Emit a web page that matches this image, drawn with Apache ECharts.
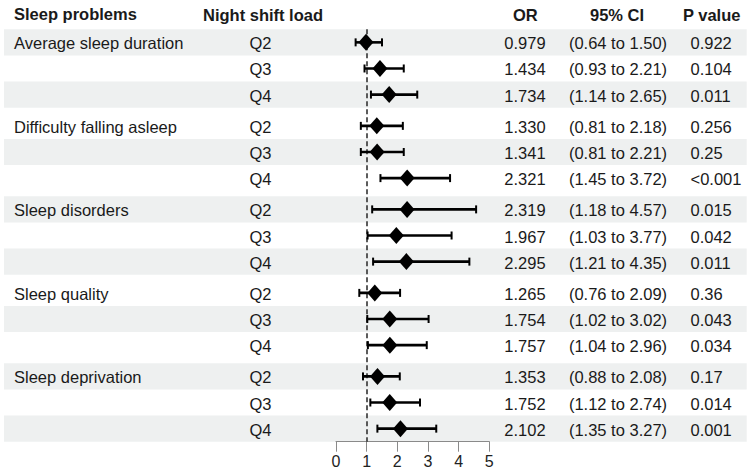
<!DOCTYPE html>
<html>
<head>
<meta charset="utf-8">
<script src="https://cdn.jsdelivr.net/npm/echarts@6/dist/echarts.min.js"></script>
<style>
  html, body { margin: 0; padding: 0; background: #ffffff; }
  #chart { width: 749px; height: 473px; }
</style>
</head>
<body>
<div id="chart"></div>
<script>
// ---------------- data ----------------
const groups = ['Average sleep duration', 'Difficulty falling asleep', 'Sleep disorders', 'Sleep quality', 'Sleep deprivation'];
const loads = ['Q2', 'Q3', 'Q4'];
const orValues = [0.979, 1.434, 1.734, 1.330, 1.341, 2.321, 2.319, 1.967, 2.295, 1.265, 1.754, 1.757, 1.353, 1.752, 2.102];
const ciLow = [0.64, 0.93, 1.14, 0.81, 0.81, 1.45, 1.18, 1.03, 1.21, 0.76, 1.02, 1.04, 0.88, 1.12, 1.35];
const ciHigh = [1.50, 2.21, 2.65, 2.18, 2.21, 3.72, 4.57, 3.77, 4.35, 2.09, 3.02, 2.96, 2.08, 2.74, 3.27];
const pValues = ['0.922', '0.104', '0.011', '0.256', '0.25', '<0.001', '0.015', '0.042', '0.011', '0.36', '0.043', '0.034', '0.17', '0.014', '0.001'];
const headers = ['Sleep problems', 'Night shift load', 'OR', '95% CI', 'P value'];
const xTicks = [0, 1, 2, 3, 4, 5];

// ---------------- layout ----------------
const FONT = '"Liberation Sans", Arial, Helvetica, sans-serif';
const FS = 16.5;
const TXT = '#1a1a1a';
const GAP = 0.197;                       // gap between groups, in row units
const NROWS = groups.length * loads.length;
const TOTAL = NROWS + (groups.length - 1) * GAP;
const GRID_TOP = 29.3, GRID_H = 412.4;
function rowTop(i) { return Math.floor(i / 3) * (3 + GAP) + (i % 3); }
function rowCenter(i) { return rowTop(i) + 0.5; }

const rows = orValues.map((v, i) => ({
  idx: i,
  group: (i % 3 === 0) ? groups[Math.floor(i / 3)] : '',
  load: loads[i % 3],
  or: v.toFixed(3),
  ci: '(' + ciLow[i].toFixed(2) + ' to ' + ciHigh[i].toFixed(2) + ')',
  p: pValues[i]
}));

const chart = echarts.init(document.getElementById('chart'), null, { renderer: 'svg' });

const option = {
  backgroundColor: '#ffffff',
  animation: false,
  grid: [
    { left: 336, right: 259.7, top: GRID_TOP, height: GRID_H },
    { left: 0, right: 0, top: GRID_TOP, height: GRID_H }
  ],
  xAxis: [
    {
      gridIndex: 0, type: 'value', min: xTicks[0], max: xTicks[xTicks.length - 1], interval: 1,
      position: 'bottom',
      axisLine: { show: true, onZero: false, lineStyle: { color: '#8a8a8a', width: 1 } },
      axisTick: { show: true, inside: false, length: 10, lineStyle: { color: '#8a8a8a', width: 1 } },
      axisLabel: { show: true, margin: 12, fontFamily: FONT, fontSize: 16, color: '#222' },
      splitLine: { show: false }
    },
    { gridIndex: 1, type: 'value', min: 0, max: 749, show: false }
  ],
  yAxis: [
    { gridIndex: 0, type: 'value', min: 0, max: TOTAL, inverse: true, show: false },
    { gridIndex: 1, type: 'value', min: 0, max: TOTAL, inverse: true, show: false }
  ],
  graphic: [
    { type: 'text', left: 14, top: 5.5, style: { text: headers[0], font: 'bold ' + FS + 'px ' + FONT, fill: TXT } },
    { type: 'text', x: 263, y: 14.5, style: { text: headers[1], font: 'bold ' + FS + 'px ' + FONT, fill: TXT, align: 'center', verticalAlign: 'middle' } },
    { type: 'text', x: 525.3, y: 14.5, style: { text: headers[2], font: 'bold ' + FS + 'px ' + FONT, fill: TXT, align: 'center', verticalAlign: 'middle' } },
    { type: 'text', x: 617, y: 14.5, style: { text: headers[3], font: 'bold ' + FS + 'px ' + FONT, fill: TXT, align: 'center', verticalAlign: 'middle' } },
    { type: 'text', x: 711.7, y: 14.5, style: { text: headers[4], font: 'bold ' + FS + 'px ' + FONT, fill: TXT, align: 'center', verticalAlign: 'middle' } }
  ],
  series: [
    // zebra bands
    {
      type: 'custom', xAxisIndex: 1, yAxisIndex: 1, z: 0, silent: true,
      data: rows.filter(r => r.idx % 2 === 0).map(r => [r.idx]),
      renderItem: function (params, api) {
        const i = api.value(0);
        const p1 = api.coord([4, rowTop(i)]);
        const p2 = api.coord([746.7, rowTop(i) + 1]);
        return { type: 'rect', shape: { x: p1[0], y: p1[1], width: p2[0] - p1[0], height: p2[1] - p1[1] }, style: { fill: '#eef0f0' } };
      }
    },
    // table text
    {
      type: 'custom', xAxisIndex: 1, yAxisIndex: 1, z: 5, silent: true,
      data: rows.map(r => [r.idx]),
      renderItem: function (params, api) {
        const r = rows[api.value(0)];
        const y = api.coord([0, rowCenter(r.idx)])[1] + 1;
        const f = FS + 'px ' + FONT;
        const mk = (x, text, align) => ({ type: 'text', x: x, y: y, style: { text: text, font: f, fill: TXT, align: align, verticalAlign: 'middle' } });
        return {
          type: 'group',
          children: [
            mk(14, r.group, 'left'),
            mk(260.5, r.load, 'center'),
            mk(525, r.or, 'center'),
            mk(618, r.ci, 'center'),
            mk(690.5, r.p, 'left')
          ]
        };
      }
    },
    // confidence intervals
    {
      type: 'custom', xAxisIndex: 0, yAxisIndex: 0, z: 6, silent: true,
      data: rows.map(r => [ciLow[r.idx], rowCenter(r.idx), ciHigh[r.idx]]),
      renderItem: function (params, api) {
        const a = api.coord([api.value(0), api.value(1)]);
        const b = api.coord([api.value(2), api.value(1)]);
        const st = { stroke: '#000', lineWidth: 2.6 };
        const cap = { stroke: '#000', lineWidth: 2 };
        return {
          type: 'group',
          children: [
            { type: 'line', shape: { x1: a[0], y1: a[1], x2: b[0], y2: b[1] }, style: st },
            { type: 'line', shape: { x1: a[0], y1: a[1] - 4, x2: a[0], y2: a[1] + 4 }, style: cap },
            { type: 'line', shape: { x1: b[0], y1: b[1] - 4, x2: b[0], y2: b[1] + 4 }, style: cap }
          ]
        };
      }
    },
    // point estimates + reference line
    {
      type: 'scatter', xAxisIndex: 0, yAxisIndex: 0, z: 7, silent: true,
      symbol: 'diamond', symbolSize: [15, 17],
      itemStyle: { color: '#000', opacity: 1 },
      data: rows.map(r => [orValues[r.idx], rowCenter(r.idx)]),
      markLine: {
        silent: true, symbol: ['none', 'none'], label: { show: false },
        lineStyle: { color: '#333', width: 1.6, type: [5, 3] },
        data: [{ xAxis: 1 }]
      }
    }
  ]
};
chart.setOption(option);
</script>
</body>
</html>
